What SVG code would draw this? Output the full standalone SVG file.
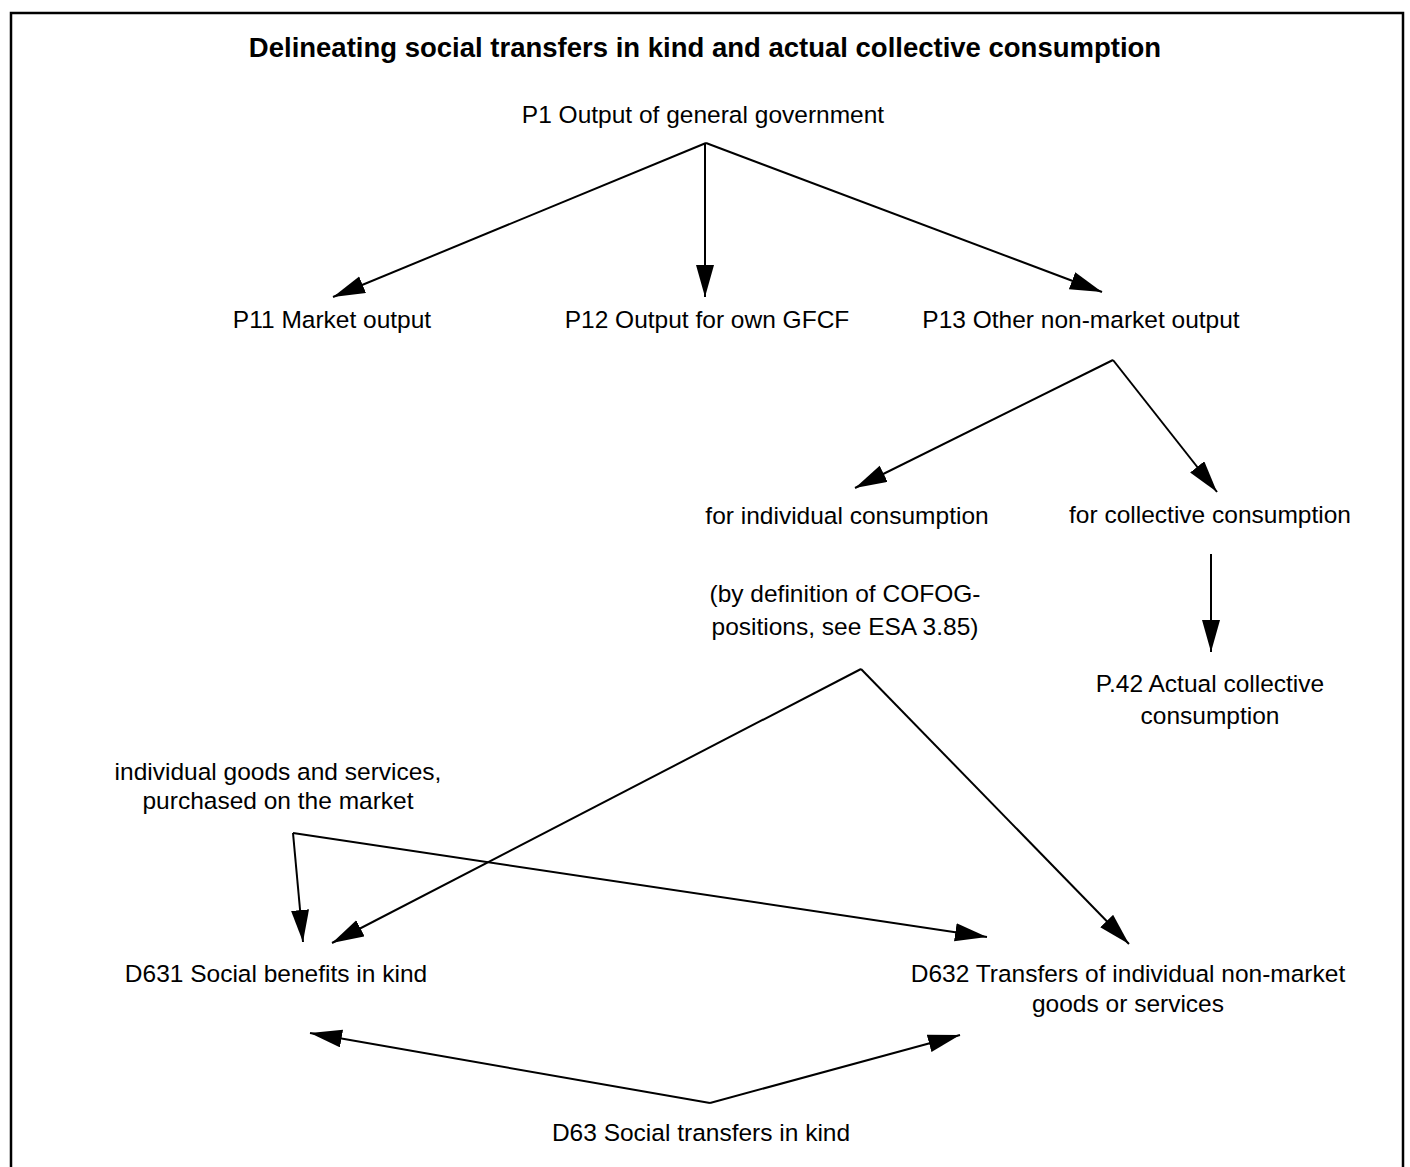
<svg xmlns="http://www.w3.org/2000/svg" width="1410" height="1167" viewBox="0 0 1410 1167">
<defs>
<style>
text{font-family:"Liberation Sans",Arial,sans-serif;font-size:24.5px;fill:#000;text-anchor:middle}
.title{font-weight:bold;font-size:27.5px}
.c{stroke:#000;stroke-width:2;fill:none;marker-end:url(#ah)}
.frame{fill:none;stroke:#000;stroke-width:2.5}
</style>
<marker id="ah" markerUnits="userSpaceOnUse" markerWidth="34" markerHeight="20" refX="32" refY="9" orient="auto" viewBox="0 0 34 20">
<path d="M0,0 L32,9 L0,18 Z" fill="#000"/>
</marker>
</defs>
<rect width="1410" height="1167" fill="#fff"/>
<rect class="frame" x="11" y="13" width="1392" height="1180"/>
<text class="title" x="705" y="57">Delineating social transfers in kind and actual collective consumption</text>
<g id="connectors">
<line class="c" x1="706" y1="143" x2="333" y2="297"/>
<line class="c" x1="705" y1="143" x2="705" y2="297"/>
<line class="c" x1="706" y1="143" x2="1102" y2="292"/>
<line class="c" x1="1113" y1="360" x2="855" y2="488"/>
<line class="c" x1="1113" y1="360" x2="1217" y2="492"/>
<line class="c" x1="1211" y1="554" x2="1211" y2="652"/>
<line class="c" x1="861" y1="669" x2="332" y2="943"/>
<line class="c" x1="861" y1="669" x2="1129" y2="944"/>
<line class="c" x1="293" y1="833" x2="303" y2="942"/>
<line class="c" x1="293" y1="833" x2="987" y2="937"/>
<line class="c" x1="710" y1="1103" x2="310" y2="1033"/>
<line class="c" x1="710" y1="1103" x2="960" y2="1035"/>
</g>
<g id="p1"><text x="703" y="123">P1 Output of general government</text></g>
<g id="p11"><text x="332" y="328">P11 Market output</text></g>
<g id="p12"><text x="707" y="328">P12 Output for own GFCF</text></g>
<g id="p13"><text x="1081" y="328">P13 Other non-market output</text></g>
<g id="individual"><text x="847" y="524">for individual consumption</text></g>
<g id="collective"><text x="1210" y="523">for collective consumption</text></g>
<g id="cofog"><text x="845" y="602">(by definition of COFOG-</text><text x="845" y="635">positions, see ESA 3.85)</text></g>
<g id="p42"><text x="1210" y="692">P.42 Actual collective</text><text x="1210" y="724">consumption</text></g>
<g id="market"><text x="278" y="780">individual goods and services,</text><text x="278" y="809">purchased on the market</text></g>
<g id="d631"><text x="276" y="982">D631 Social benefits in kind</text></g>
<g id="d632"><text x="1128" y="982">D632 Transfers of individual non-market</text><text x="1128" y="1012">goods or services</text></g>
<g id="d63"><text x="701" y="1141">D63 Social transfers in kind</text></g>
</svg>
